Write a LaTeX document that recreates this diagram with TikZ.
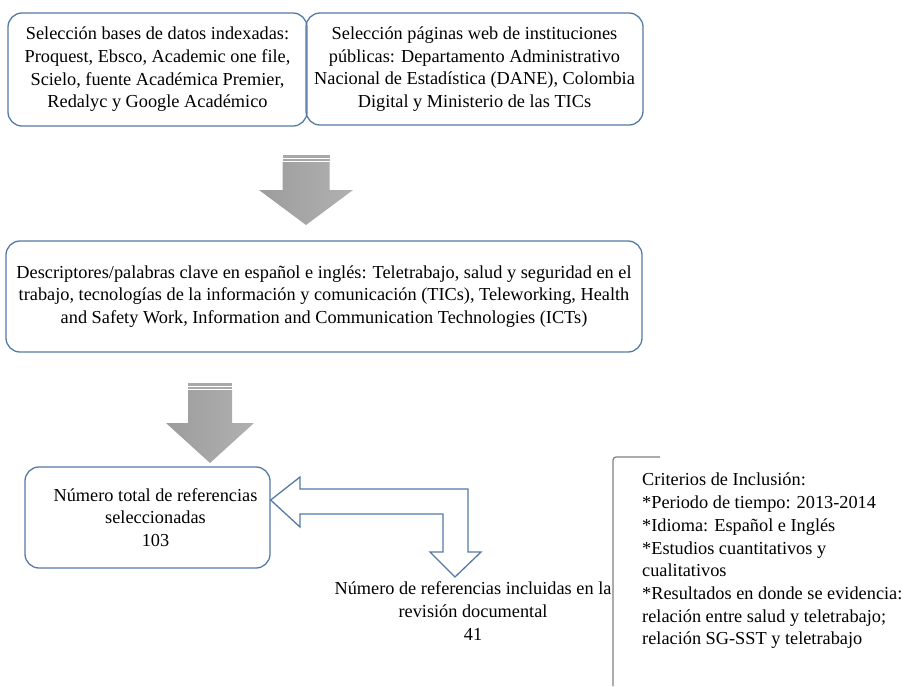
\documentclass[tikz,border=0pt]{standalone}
\usepackage{fontspec}
\setmainfont{Liberation Serif}
\definecolor{borde}{RGB}{84,122,166}
\definecolor{gris}{RGB}{168,168,168}
\begin{document}
\begin{tikzpicture}[x=1pt,y=-1pt,
        texto/.style={align=center,inner sep=0pt,font=\fontsize{18.3}{22.7}\selectfont},
        caja/.style={texto,draw=borde,line width=1.3pt,rounded corners=14pt}]
            \useasboundingbox (0,0) rectangle (910,686);
            \node[caja,minimum width=299pt,minimum height=113pt] (bases) at (157.5,69.5)
                {Selección bases de datos indexadas:\\Proquest, Ebsco, Academic one file,\\Scielo, fuente Académica Premier,\\Redalyc y Google Académico};
            \node[caja,minimum width=337pt,minimum height=112pt] (paginas) at (474.5,69)
                {Selección páginas web de instituciones\\públicas: Departamento Administrativo\\Nacional de Estadística (DANE), Colombia\\Digital y Ministerio de las TICs};
            \node[caja,minimum width=636pt,minimum height=111pt] (descriptores) at (324,296.5)
                {Descriptores/palabras clave en español e inglés: Teletrabajo, salud y seguridad en el\\trabajo, tecnologías de la información y comunicación (TICs), Teleworking, Health\\and Safety Work, Information and Communication Technologies (ICTs)};
            \node[caja,minimum width=245pt,minimum height=101pt] (total) at (147.5,517.5) {};
            \node[texto] (totaltxt) at ([xshift=8pt]total.center)
                {Número total de referencias\\seleccionadas\\103};
            \node[texto] (incluidas) at (473,611)
                {Número de referencias incluidas en la\\revisión documental\\41};
            \node[texto,align=left,anchor=north west] (criterios) at (642,473)
                {Criterios de Inclusión:\\*Periodo de tiempo: 2013-2014\\*Idioma: Español e Inglés\\*Estudios cuantitativos y\\cualitativos\\*Resultados en donde se evidencia:\\relación entre salud y teletrabajo;\\relación SG-SST y teletrabajo};
            \foreach \cx/\cy/\w/\h in {306/155/23.5/35,210/383/22/40}{
                \fill[gris] (\cx-\w,\cy) rectangle (\cx+\w,\cy+2.5);
                \fill[gris] (\cx-\w,\cy+3.5) rectangle (\cx+\w,\cy+6);
                \shade[left color=gris!93!black,right color=gris!90!white]
                    (\cx-\w,\cy+7) -- (\cx+\w,\cy+7) -- (\cx+\w,\cy+\h) -- (\cx+2*\w,\cy+\h)
                    -- (\cx,\cy+2*\h) -- (\cx-2*\w,\cy+\h) -- (\cx-\w,\cy+\h) -- cycle;
            }
            \draw[borde,line width=1.3pt,fill=white] (total.east |- 0,500) -- (300,477) -- (300,489) -- (468,489)
                -- (468,552) -- (481,552) -- (455,577) -- (430,552) -- (443,552) -- (443,514)
                -- (300,514) -- (300,527) -- cycle;
            \draw[gray,line width=1.2pt,rounded corners=3pt] (660,457) -- (613,457) -- (613,686);
        \end{tikzpicture}
\end{document}
